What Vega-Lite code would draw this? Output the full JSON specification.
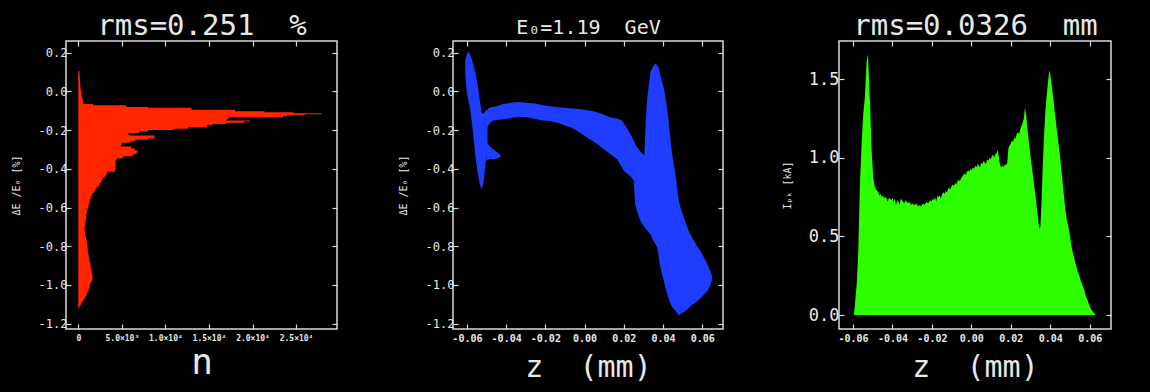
{
  "$schema": "https://vega.github.io/schema/vega-lite/v6.json",
  "background": "black",
  "padding": {"left": 10, "top": 10, "right": 37, "bottom": 12},
  "spacing": 116,
  "bounds": "flush",
  "config": {
    "view": {"stroke": "#d9d9d9", "strokeWidth": 1.5, "fill": "black"},
    "axis": {"domain": false, "grid": false, "tickColor": "#d9d9d9", "tickSize": -5, "tickWidth": 1.2, "labelColor": "#e8e8e8", "labelFont": "DejaVu Sans Mono", "titleColor": "#e8e8e8", "titleFont": "DejaVu Sans Mono", "titleFontWeight": "normal", "labelFontWeight": "normal"}
  },
  "datasets": {
    "hist": [
      {"dE": 0.105, "n": 60}, {"dE": 0.095, "n": 130}, {"dE": 0.085, "n": 150}, {"dE": 0.075, "n": 170}, {"dE": 0.065, "n": 180},
      {"dE": 0.055, "n": 190}, {"dE": 0.045, "n": 200}, {"dE": 0.035, "n": 220}, {"dE": 0.025, "n": 240}, {"dE": 0.015, "n": 250},
      {"dE": 0.005, "n": 270}, {"dE": -0.005, "n": 340}, {"dE": -0.015, "n": 360}, {"dE": -0.025, "n": 380}, {"dE": -0.035, "n": 400},
      {"dE": -0.045, "n": 520}, {"dE": -0.055, "n": 540}, {"dE": -0.065, "n": 560}, {"dE": -0.072, "n": 1700}, {"dE": -0.08, "n": 5500},
      {"dE": -0.085, "n": 8000}, {"dE": -0.095, "n": 13000}, {"dE": -0.103, "n": 18000}, {"dE": -0.108, "n": 21400}, {"dE": -0.113, "n": 24700},
      {"dE": -0.118, "n": 27950}, {"dE": -0.123, "n": 26000}, {"dE": -0.128, "n": 23900}, {"dE": -0.133, "n": 23500}, {"dE": -0.138, "n": 17300},
      {"dE": -0.145, "n": 17200}, {"dE": -0.15, "n": 17000}, {"dE": -0.155, "n": 19700}, {"dE": -0.162, "n": 19000}, {"dE": -0.168, "n": 17000},
      {"dE": -0.175, "n": 15400}, {"dE": -0.185, "n": 14800}, {"dE": -0.193, "n": 12600}, {"dE": -0.2, "n": 11000}, {"dE": -0.207, "n": 8000},
      {"dE": -0.215, "n": 7000}, {"dE": -0.222, "n": 5700}, {"dE": -0.228, "n": 5900}, {"dE": -0.235, "n": 8700}, {"dE": -0.243, "n": 8800},
      {"dE": -0.25, "n": 8000}, {"dE": -0.258, "n": 6500}, {"dE": -0.265, "n": 6000}, {"dE": -0.275, "n": 5000}, {"dE": -0.285, "n": 4900},
      {"dE": -0.295, "n": 6100}, {"dE": -0.305, "n": 6500}, {"dE": -0.315, "n": 6800}, {"dE": -0.325, "n": 6700}, {"dE": -0.335, "n": 6300},
      {"dE": -0.345, "n": 5200}, {"dE": -0.355, "n": 4400}, {"dE": -0.365, "n": 4300}, {"dE": -0.375, "n": 4250}, {"dE": -0.385, "n": 4300},
      {"dE": -0.395, "n": 4250}, {"dE": -0.405, "n": 4300}, {"dE": -0.415, "n": 4200}, {"dE": -0.425, "n": 3300}, {"dE": -0.435, "n": 3250},
      {"dE": -0.445, "n": 3100}, {"dE": -0.455, "n": 2800}, {"dE": -0.465, "n": 2700}, {"dE": -0.475, "n": 2600}, {"dE": -0.485, "n": 2450},
      {"dE": -0.495, "n": 2300}, {"dE": -0.505, "n": 2050}, {"dE": -0.515, "n": 1950}, {"dE": -0.525, "n": 1800}, {"dE": -0.535, "n": 1600},
      {"dE": -0.545, "n": 1500}, {"dE": -0.555, "n": 1450}, {"dE": -0.565, "n": 1350}, {"dE": -0.575, "n": 1300}, {"dE": -0.585, "n": 1250},
      {"dE": -0.595, "n": 1180}, {"dE": -0.605, "n": 1100}, {"dE": -0.615, "n": 1050}, {"dE": -0.625, "n": 1000}, {"dE": -0.635, "n": 960},
      {"dE": -0.645, "n": 920}, {"dE": -0.655, "n": 900}, {"dE": -0.665, "n": 870}, {"dE": -0.675, "n": 850}, {"dE": -0.685, "n": 800},
      {"dE": -0.695, "n": 770}, {"dE": -0.705, "n": 740}, {"dE": -0.715, "n": 720}, {"dE": -0.725, "n": 730}, {"dE": -0.735, "n": 760},
      {"dE": -0.745, "n": 800}, {"dE": -0.755, "n": 850}, {"dE": -0.765, "n": 900}, {"dE": -0.775, "n": 950}, {"dE": -0.785, "n": 1000},
      {"dE": -0.795, "n": 1020}, {"dE": -0.805, "n": 1050}, {"dE": -0.815, "n": 1080}, {"dE": -0.825, "n": 1100}, {"dE": -0.835, "n": 1110},
      {"dE": -0.845, "n": 1170}, {"dE": -0.855, "n": 1200}, {"dE": -0.865, "n": 1250}, {"dE": -0.875, "n": 1280}, {"dE": -0.885, "n": 1320},
      {"dE": -0.895, "n": 1380}, {"dE": -0.905, "n": 1420}, {"dE": -0.915, "n": 1460}, {"dE": -0.925, "n": 1500}, {"dE": -0.935, "n": 1540},
      {"dE": -0.945, "n": 1570}, {"dE": -0.955, "n": 1610}, {"dE": -0.965, "n": 1630}, {"dE": -0.975, "n": 1620}, {"dE": -0.985, "n": 1550},
      {"dE": -0.995, "n": 1400}, {"dE": -1.005, "n": 1350}, {"dE": -1.015, "n": 1300}, {"dE": -1.025, "n": 1250}, {"dE": -1.035, "n": 1170},
      {"dE": -1.045, "n": 1050}, {"dE": -1.055, "n": 950}, {"dE": -1.065, "n": 850}, {"dE": -1.075, "n": 720}, {"dE": -1.085, "n": 600},
      {"dE": -1.095, "n": 400}, {"dE": -1.105, "n": 300}, {"dE": -1.115, "n": 180}, {"dE": -1.125, "n": 50}
    ],
    "phase": [
      {"part": "L", "z": -0.0608, "lo": 0.09, "hi": 0.16}, {"part": "L", "z": -0.0600, "lo": -0.01, "hi": 0.195},
      {"part": "L", "z": -0.0594, "lo": -0.04, "hi": 0.205}, {"part": "L", "z": -0.0585, "lo": -0.08, "hi": 0.195},
      {"part": "L", "z": -0.0575, "lo": -0.16, "hi": 0.165}, {"part": "L", "z": -0.0565, "lo": -0.25, "hi": 0.13},
      {"part": "L", "z": -0.0555, "lo": -0.35, "hi": 0.09}, {"part": "L", "z": -0.0545, "lo": -0.42, "hi": 0.03},
      {"part": "L", "z": -0.0535, "lo": -0.48, "hi": -0.04}, {"part": "L", "z": -0.0525, "lo": -0.505, "hi": -0.11},
      {"part": "L", "z": -0.0515, "lo": -0.47, "hi": -0.115}, {"part": "L", "z": -0.0505, "lo": -0.37, "hi": -0.10},
      {"part": "L", "z": -0.0495, "lo": -0.31, "hi": -0.095},
      {"part": "P", "z": -0.0500, "lo": -0.36, "hi": -0.26}, {"part": "P", "z": -0.0487, "lo": -0.35, "hi": -0.28},
      {"part": "P", "z": -0.0465, "lo": -0.35, "hi": -0.30}, {"part": "P", "z": -0.0445, "lo": -0.345, "hi": -0.315},
      {"part": "P", "z": -0.0428, "lo": -0.34, "hi": -0.33},
      {"part": "M", "z": -0.0500, "lo": -0.19, "hi": -0.10}, {"part": "M", "z": -0.0487, "lo": -0.17, "hi": -0.084},
      {"part": "M", "z": -0.0470, "lo": -0.153, "hi": -0.08}, {"part": "M", "z": -0.0453, "lo": -0.148, "hi": -0.078},
      {"part": "M", "z": -0.0420, "lo": -0.145, "hi": -0.066}, {"part": "M", "z": -0.0377, "lo": -0.138, "hi": -0.058},
      {"part": "M", "z": -0.0340, "lo": -0.132, "hi": -0.055}, {"part": "M", "z": -0.0300, "lo": -0.132, "hi": -0.058},
      {"part": "M", "z": -0.0250, "lo": -0.143, "hi": -0.063}, {"part": "M", "z": -0.0215, "lo": -0.150, "hi": -0.072},
      {"part": "M", "z": -0.0173, "lo": -0.153, "hi": -0.077}, {"part": "M", "z": -0.0120, "lo": -0.168, "hi": -0.083},
      {"part": "M", "z": -0.0060, "lo": -0.19, "hi": -0.088}, {"part": "M", "z": -0.0020, "lo": -0.215, "hi": -0.092},
      {"part": "M", "z": 0.0030, "lo": -0.25, "hi": -0.100}, {"part": "M", "z": 0.0065, "lo": -0.272, "hi": -0.108},
      {"part": "M", "z": 0.0100, "lo": -0.300, "hi": -0.120}, {"part": "M", "z": 0.0132, "lo": -0.325, "hi": -0.135},
      {"part": "M", "z": 0.0166, "lo": -0.350, "hi": -0.140}, {"part": "M", "z": 0.0190, "lo": -0.390, "hi": -0.150},
      {"part": "M", "z": 0.0200, "lo": -0.410, "hi": -0.165}, {"part": "M", "z": 0.0234, "lo": -0.440, "hi": -0.220},
      {"part": "M", "z": 0.0251, "lo": -0.460, "hi": -0.255}, {"part": "M", "z": 0.0258, "lo": -0.580, "hi": -0.270},
      {"part": "M", "z": 0.0268, "lo": -0.620, "hi": -0.290}, {"part": "M", "z": 0.0285, "lo": -0.669, "hi": -0.310},
      {"part": "M", "z": 0.0305, "lo": -0.700, "hi": -0.330}, {"part": "M", "z": 0.0312, "lo": -0.710, "hi": -0.15},
      {"part": "M", "z": 0.0320, "lo": -0.720, "hi": -0.03}, {"part": "M", "z": 0.0336, "lo": -0.738, "hi": 0.10},
      {"part": "M", "z": 0.0350, "lo": -0.770, "hi": 0.13}, {"part": "M", "z": 0.0362, "lo": -0.790, "hi": 0.145},
      {"part": "M", "z": 0.0370, "lo": -0.807, "hi": 0.135}, {"part": "M", "z": 0.0379, "lo": -0.860, "hi": 0.12},
      {"part": "M", "z": 0.0387, "lo": -0.910, "hi": 0.08}, {"part": "M", "z": 0.0404, "lo": -0.980, "hi": 0.02},
      {"part": "M", "z": 0.0421, "lo": -1.047, "hi": -0.084}, {"part": "M", "z": 0.0435, "lo": -1.090, "hi": -0.22},
      {"part": "M", "z": 0.0447, "lo": -1.115, "hi": -0.325}, {"part": "M", "z": 0.0464, "lo": -1.133, "hi": -0.43},
      {"part": "M", "z": 0.0481, "lo": -1.158, "hi": -0.57}, {"part": "M", "z": 0.0490, "lo": -1.150, "hi": -0.60},
      {"part": "M", "z": 0.0506, "lo": -1.140, "hi": -0.65}, {"part": "M", "z": 0.0523, "lo": -1.128, "hi": -0.70},
      {"part": "M", "z": 0.0540, "lo": -1.110, "hi": -0.74}, {"part": "M", "z": 0.0574, "lo": -1.085, "hi": -0.80},
      {"part": "M", "z": 0.0600, "lo": -1.060, "hi": -0.84}, {"part": "M", "z": 0.0626, "lo": -1.033, "hi": -0.893},
      {"part": "M", "z": 0.0642, "lo": -1.000, "hi": -0.930}, {"part": "M", "z": 0.0651, "lo": -0.970, "hi": -0.955}
    ],
    "current": [
      {"z": -0.0595, "I": 0}, {"z": -0.0588, "I": 0.10}, {"z": -0.0581, "I": 0.20}, {"z": -0.0573, "I": 0.41}, {"z": -0.0565, "I": 0.83},
      {"z": -0.0556, "I": 1.10}, {"z": -0.0548, "I": 1.28}, {"z": -0.0540, "I": 1.38}, {"z": -0.0531, "I": 1.61}, {"z": -0.0524, "I": 1.66},
      {"z": -0.0519, "I": 1.50}, {"z": -0.0514, "I": 1.36}, {"z": -0.0506, "I": 1.05}, {"z": -0.0497, "I": 0.87}, {"z": -0.0490, "I": 0.82},
      {"z": -0.0484, "I": 0.80}, {"z": -0.0478, "I": 0.79}, {"z": -0.0472, "I": 0.78}, {"z": -0.0466, "I": 0.76}, {"z": -0.0460, "I": 0.77},
      {"z": -0.0454, "I": 0.75}, {"z": -0.0448, "I": 0.76}, {"z": -0.0442, "I": 0.74}, {"z": -0.0436, "I": 0.75}, {"z": -0.0430, "I": 0.74},
      {"z": -0.0424, "I": 0.72}, {"z": -0.0418, "I": 0.745}, {"z": -0.0412, "I": 0.74}, {"z": -0.0406, "I": 0.73}, {"z": -0.0400, "I": 0.745},
      {"z": -0.0394, "I": 0.72}, {"z": -0.0388, "I": 0.74}, {"z": -0.0382, "I": 0.70}, {"z": -0.0376, "I": 0.73}, {"z": -0.0370, "I": 0.72},
      {"z": -0.0364, "I": 0.70}, {"z": -0.0358, "I": 0.74}, {"z": -0.0352, "I": 0.73}, {"z": -0.0346, "I": 0.72}, {"z": -0.0340, "I": 0.71},
      {"z": -0.0334, "I": 0.73}, {"z": -0.0328, "I": 0.72}, {"z": -0.0322, "I": 0.71}, {"z": -0.0316, "I": 0.72}, {"z": -0.0310, "I": 0.71},
      {"z": -0.0304, "I": 0.70}, {"z": -0.0298, "I": 0.71}, {"z": -0.0292, "I": 0.70}, {"z": -0.0286, "I": 0.70}, {"z": -0.0280, "I": 0.71},
      {"z": -0.0274, "I": 0.70}, {"z": -0.0268, "I": 0.69}, {"z": -0.0262, "I": 0.70}, {"z": -0.0256, "I": 0.69}, {"z": -0.0250, "I": 0.70},
      {"z": -0.0244, "I": 0.71}, {"z": -0.0238, "I": 0.70}, {"z": -0.0232, "I": 0.71}, {"z": -0.0226, "I": 0.72}, {"z": -0.0220, "I": 0.71},
      {"z": -0.0214, "I": 0.72}, {"z": -0.0208, "I": 0.73}, {"z": -0.0202, "I": 0.72}, {"z": -0.0196, "I": 0.74}, {"z": -0.0190, "I": 0.73},
      {"z": -0.0184, "I": 0.75}, {"z": -0.0178, "I": 0.72}, {"z": -0.0172, "I": 0.76}, {"z": -0.0166, "I": 0.75}, {"z": -0.0160, "I": 0.76},
      {"z": -0.0154, "I": 0.74}, {"z": -0.0148, "I": 0.77}, {"z": -0.0142, "I": 0.78}, {"z": -0.0136, "I": 0.77}, {"z": -0.0130, "I": 0.79},
      {"z": -0.0124, "I": 0.78}, {"z": -0.0118, "I": 0.80}, {"z": -0.0112, "I": 0.81}, {"z": -0.0106, "I": 0.80}, {"z": -0.0100, "I": 0.82},
      {"z": -0.0094, "I": 0.83}, {"z": -0.0088, "I": 0.82}, {"z": -0.0082, "I": 0.84}, {"z": -0.0076, "I": 0.83}, {"z": -0.0070, "I": 0.85},
      {"z": -0.0064, "I": 0.86}, {"z": -0.0058, "I": 0.85}, {"z": -0.0052, "I": 0.87}, {"z": -0.0046, "I": 0.88}, {"z": -0.0040, "I": 0.89},
      {"z": -0.0034, "I": 0.90}, {"z": -0.0028, "I": 0.89}, {"z": -0.0022, "I": 0.91}, {"z": -0.0016, "I": 0.92}, {"z": -0.0010, "I": 0.91},
      {"z": -0.0004, "I": 0.93}, {"z": 0.0002, "I": 0.92}, {"z": 0.0008, "I": 0.94}, {"z": 0.0014, "I": 0.93}, {"z": 0.0020, "I": 0.95},
      {"z": 0.0026, "I": 0.94}, {"z": 0.0032, "I": 0.96}, {"z": 0.0038, "I": 0.95}, {"z": 0.0044, "I": 0.94}, {"z": 0.0050, "I": 0.97},
      {"z": 0.0056, "I": 0.96}, {"z": 0.0062, "I": 0.98}, {"z": 0.0068, "I": 0.97}, {"z": 0.0074, "I": 0.96}, {"z": 0.0080, "I": 0.99},
      {"z": 0.0086, "I": 0.98}, {"z": 0.0092, "I": 1.00}, {"z": 0.0098, "I": 0.99}, {"z": 0.0104, "I": 1.01}, {"z": 0.0110, "I": 1.02},
      {"z": 0.0116, "I": 1.00}, {"z": 0.0122, "I": 1.02}, {"z": 0.0128, "I": 1.03}, {"z": 0.0134, "I": 1.05}, {"z": 0.0140, "I": 1.00},
      {"z": 0.0146, "I": 0.95}, {"z": 0.0152, "I": 0.94}, {"z": 0.0158, "I": 0.95}, {"z": 0.0164, "I": 0.94}, {"z": 0.0170, "I": 0.96},
      {"z": 0.0176, "I": 0.95}, {"z": 0.0182, "I": 0.97}, {"z": 0.0188, "I": 1.06}, {"z": 0.0194, "I": 1.08}, {"z": 0.0200, "I": 1.09},
      {"z": 0.0206, "I": 1.11}, {"z": 0.0212, "I": 1.10}, {"z": 0.0218, "I": 1.13}, {"z": 0.0224, "I": 1.12}, {"z": 0.0230, "I": 1.15},
      {"z": 0.0236, "I": 1.16}, {"z": 0.0242, "I": 1.15}, {"z": 0.0248, "I": 1.18}, {"z": 0.0254, "I": 1.20}, {"z": 0.0260, "I": 1.22},
      {"z": 0.0266, "I": 1.25}, {"z": 0.0272, "I": 1.32}, {"z": 0.0278, "I": 1.27}, {"z": 0.0284, "I": 1.19}, {"z": 0.0290, "I": 1.12},
      {"z": 0.0296, "I": 1.05}, {"z": 0.0302, "I": 0.99}, {"z": 0.0308, "I": 0.93}, {"z": 0.0314, "I": 0.87}, {"z": 0.0320, "I": 0.81},
      {"z": 0.0326, "I": 0.75}, {"z": 0.0332, "I": 0.68}, {"z": 0.0338, "I": 0.62}, {"z": 0.0344, "I": 0.55}, {"z": 0.0350, "I": 0.56},
      {"z": 0.0356, "I": 0.72}, {"z": 0.0362, "I": 0.95}, {"z": 0.0368, "I": 1.12}, {"z": 0.0374, "I": 1.27}, {"z": 0.0380, "I": 1.37},
      {"z": 0.0386, "I": 1.45}, {"z": 0.0392, "I": 1.52}, {"z": 0.0397, "I": 1.56}, {"z": 0.0403, "I": 1.50}, {"z": 0.0410, "I": 1.43},
      {"z": 0.0416, "I": 1.37}, {"z": 0.0422, "I": 1.30}, {"z": 0.0428, "I": 1.24}, {"z": 0.0434, "I": 1.17}, {"z": 0.0440, "I": 1.11},
      {"z": 0.0446, "I": 1.05}, {"z": 0.0452, "I": 0.98}, {"z": 0.0458, "I": 0.90}, {"z": 0.0464, "I": 0.83}, {"z": 0.0470, "I": 0.75},
      {"z": 0.0476, "I": 0.68}, {"z": 0.0482, "I": 0.62}, {"z": 0.0488, "I": 0.58}, {"z": 0.0494, "I": 0.55}, {"z": 0.0500, "I": 0.50},
      {"z": 0.0506, "I": 0.45}, {"z": 0.0512, "I": 0.41}, {"z": 0.0518, "I": 0.38}, {"z": 0.0524, "I": 0.35}, {"z": 0.0530, "I": 0.32},
      {"z": 0.0536, "I": 0.29}, {"z": 0.0542, "I": 0.27}, {"z": 0.0548, "I": 0.25}, {"z": 0.0554, "I": 0.22}, {"z": 0.0560, "I": 0.20},
      {"z": 0.0566, "I": 0.18}, {"z": 0.0572, "I": 0.16}, {"z": 0.0578, "I": 0.13}, {"z": 0.0584, "I": 0.11}, {"z": 0.0590, "I": 0.09},
      {"z": 0.0596, "I": 0.07}, {"z": 0.0602, "I": 0.05}, {"z": 0.0608, "I": 0.035}, {"z": 0.0617, "I": 0.02}, {"z": 0.0630, "I": 0.0}
    ]
  },
  "hconcat": [
    {
      "width": 271, "height": 288,
      "layer": [
        {
          "data": {"name": "hist"},
          "mark": {"type": "area", "orient": "horizontal", "interpolate": "step-after", "color": "#ff2600"},
          "encoding": {
            "x": {"field": "n", "type": "quantitative", "scale": {"domain": [-1414, 29700], "nice": false, "zero": false},
              "axis": {"orient": "bottom", "values": [0, 5000, 10000, 15000, 20000, 25000],
                "labelExpr": "datum.value == 0 ? '0' : datum.value < 10000 ? format(datum.value / 1000, '.1f') + '×10³' : format(datum.value / 10000, '.1f') + '×10⁴'",
                "labelFontSize": 8, "labelFontWeight": "bold", "labelPadding": 10, "title": "n", "titleFontSize": 36, "titleBaseline": "alphabetic", "minExtent": 20, "maxExtent": 20, "titlePadding": 24}},
            "y": {"field": "dE", "type": "quantitative", "scale": {"domain": [-1.2274, 0.2604], "nice": false, "zero": false},
              "axis": {"orient": "left", "values": [-1.2, -1.0, -0.8, -0.6, -0.4, -0.2, 0, 0.2],
                "labelExpr": "(datum.value < 0 ? '-' : '') + format(abs(datum.value), '.1f')",
                "labelFontSize": 12, "labelPadding": 4, "title": "ΔE /E₀ [%]", "titleFontSize": 10, "minExtent": 33, "maxExtent": 33, "titlePadding": 12}}
          }
        },
        {
          "data": {"name": "hist"},
          "mark": {"type": "point", "opacity": 0},
          "encoding": {
            "x": {"field": "n", "type": "quantitative", "scale": {"domain": [-1414, 29700], "nice": false, "zero": false},
              "axis": {"orient": "top", "values": [0, 5000, 10000, 15000, 20000, 25000], "labels": false, "title": "rms=0.251 \u00a0%", "titleFontSize": 29, "titleBaseline": "alphabetic", "titlePadding": 7, "minExtent": 0, "maxExtent": 0}},
            "y": {"field": "dE", "type": "quantitative", "scale": {"domain": [-1.2274, 0.2604], "nice": false, "zero": false},
              "axis": {"orient": "right", "values": [-1.2, -1.0, -0.8, -0.6, -0.4, -0.2, 0, 0.2], "labels": false, "title": null, "minExtent": 0, "maxExtent": 0}}
          }
        }
      ],
      "resolve": {"axis": {"x": "independent", "y": "independent"}}
    },
    {
      "width": 270, "height": 288,
      "layer": [
        {
          "data": {"name": "phase"},
          "mark": {"type": "area", "color": "#1f3dff"},
          "encoding": {
            "x": {"field": "z", "type": "quantitative", "scale": {"domain": [-0.0671, 0.0706], "nice": false, "zero": false},
              "axis": {"orient": "bottom", "values": [-0.06, -0.04, -0.02, 0, 0.02, 0.04, 0.06],
                "labelExpr": "(datum.value < 0 ? '-' : '') + format(abs(datum.value), '.2f')",
                "labelFontSize": 10, "labelFontWeight": "bold", "labelPadding": 9, "title": "z \u00a0(mm)", "titleFontSize": 30, "titleBaseline": "alphabetic", "minExtent": 20, "maxExtent": 20, "titlePadding": 27}},
            "y": {"field": "lo", "type": "quantitative", "scale": {"domain": [-1.2274, 0.2604], "nice": false, "zero": false},
              "axis": {"orient": "left", "values": [-1.2, -1.0, -0.8, -0.6, -0.4, -0.2, 0, 0.2],
                "labelExpr": "(datum.value < 0 ? '-' : '') + format(abs(datum.value), '.1f')",
                "labelFontSize": 12, "labelPadding": 4, "title": "ΔE /E₀ [%]", "titleFontSize": 10, "minExtent": 33, "maxExtent": 33, "titlePadding": 12}},
            "y2": {"field": "hi"},
            "detail": {"field": "part"}
          }
        },
        {
          "data": {"name": "phase"},
          "mark": {"type": "point", "opacity": 0},
          "encoding": {
            "x": {"field": "z", "type": "quantitative", "scale": {"domain": [-0.0671, 0.0706], "nice": false, "zero": false},
              "axis": {"orient": "top", "values": [-0.06, -0.04, -0.02, 0, 0.02, 0.04, 0.06], "labels": false, "title": "E₀=1.19 \u00a0GeV", "titleFontSize": 20, "titleBaseline": "alphabetic", "titlePadding": 8, "minExtent": 0, "maxExtent": 0}},
            "y": {"field": "lo", "type": "quantitative", "scale": {"domain": [-1.2274, 0.2604], "nice": false, "zero": false},
              "axis": {"orient": "right", "values": [-1.2, -1.0, -0.8, -0.6, -0.4, -0.2, 0, 0.2], "labels": false, "title": null, "minExtent": 0, "maxExtent": 0}}
          }
        }
      ],
      "resolve": {"axis": {"x": "independent", "y": "independent"}}
    },
    {
      "width": 272, "height": 288,
      "layer": [
        {
          "data": {"name": "current"},
          "mark": {"type": "area", "color": "#2eff00"},
          "encoding": {
            "x": {"field": "z", "type": "quantitative", "scale": {"domain": [-0.0671, 0.0708], "nice": false, "zero": false},
              "axis": {"orient": "bottom", "values": [-0.06, -0.04, -0.02, 0, 0.02, 0.04, 0.06],
                "labelExpr": "(datum.value < 0 ? '-' : '') + format(abs(datum.value), '.2f')",
                "labelFontSize": 10, "labelFontWeight": "bold", "labelPadding": 9, "title": "z \u00a0(mm)", "titleFontSize": 30, "titleBaseline": "alphabetic", "minExtent": 20, "maxExtent": 20, "titlePadding": 27}},
            "y": {"field": "I", "type": "quantitative", "scale": {"domain": [-0.089, 1.742], "nice": false, "zero": false},
              "axis": {"orient": "left", "values": [0, 0.5, 1.0, 1.5],
                "labelExpr": "format(datum.value, '.1f')",
                "labelFontSize": 17, "labelPadding": 5, "title": "Iₚₖ [kA]", "titleFontSize": 10, "minExtent": 37, "maxExtent": 37, "titlePadding": 10}}
          }
        },
        {
          "data": {"name": "current"},
          "mark": {"type": "point", "opacity": 0},
          "encoding": {
            "x": {"field": "z", "type": "quantitative", "scale": {"domain": [-0.0671, 0.0708], "nice": false, "zero": false},
              "axis": {"orient": "top", "values": [-0.06, -0.04, -0.02, 0, 0.02, 0.04, 0.06], "labels": false, "title": "rms=0.0326 \u00a0mm", "titleFontSize": 29, "titleBaseline": "alphabetic", "titlePadding": 7, "minExtent": 0, "maxExtent": 0}},
            "y": {"field": "I", "type": "quantitative", "scale": {"domain": [-0.089, 1.742], "nice": false, "zero": false},
              "axis": {"orient": "right", "values": [0, 0.5, 1.0, 1.5], "labels": false, "title": null, "minExtent": 0, "maxExtent": 0}}
          }
        }
      ],
      "resolve": {"axis": {"x": "independent", "y": "independent"}}
    }
  ]
}
